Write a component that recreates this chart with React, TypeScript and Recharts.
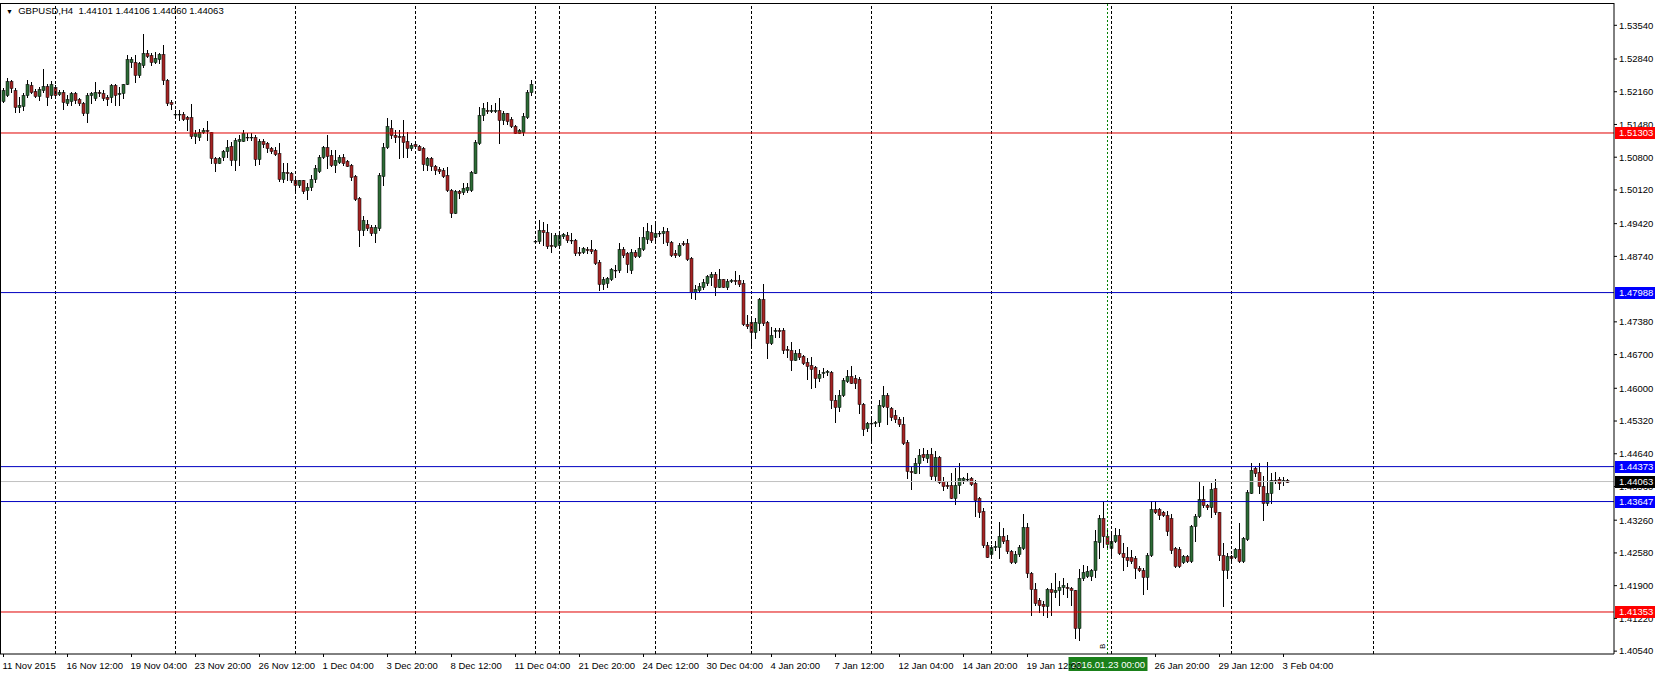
import React from 'react';
import { ComposedChart, Bar, XAxis, YAxis, ReferenceLine } from 'recharts';

const FONT = '"Liberation Sans", Arial, sans-serif';
const BULL = '#2d6b36';
const BEAR = '#a42424';

// GBPUSD H4, bar 0 = 11 Nov 2015 20:00 ... bar 321 = 3 Feb 2016 08:00
const opens = [
  1.5197, 1.5209, 1.5238, 1.5219, 1.5185, 1.5186, 1.5209, 1.5230, 1.5217, 1.5208,
  1.5219, 1.5228, 1.5209, 1.5225, 1.5212, 1.5216, 1.5193, 1.5197, 1.5214, 1.5200,
  1.5192, 1.5172, 1.5210, 1.5202, 1.5216, 1.5213, 1.5206, 1.5206, 1.5230, 1.5211,
  1.5213, 1.5233, 1.5278, 1.5278, 1.5251, 1.5271, 1.5297, 1.5292, 1.5278, 1.5285,
  1.5294, 1.5240, 1.5195, 1.5169, 1.5169, 1.5169, 1.5163, 1.5163, 1.5124, 1.5122,
  1.5132, 1.5137, 1.5132, 1.5078, 1.5069, 1.5080, 1.5092, 1.5103, 1.5074, 1.5113,
  1.5113, 1.5123, 1.5122, 1.5123, 1.5076, 1.5114, 1.5109, 1.5100, 1.5095, 1.5088,
  1.5034, 1.5050, 1.5048, 1.5033, 1.5023, 1.5032, 1.5011, 1.5018, 1.5034, 1.5052,
  1.5080, 1.5101, 1.5085, 1.5064, 1.5071, 1.5081, 1.5073, 1.5064, 1.5040, 1.4995,
  1.4929, 1.4942, 1.4936, 1.4922, 1.4932, 1.5041, 1.5101, 1.5140, 1.5126, 1.5124,
  1.5124, 1.5114, 1.5099, 1.5107, 1.5103, 1.5099, 1.5064, 1.5078, 1.5062, 1.5055,
  1.5053, 1.5043, 1.5012, 1.4965, 1.5009, 1.5007, 1.5012, 1.5011, 1.5048, 1.5110,
  1.5168, 1.5178, 1.5175, 1.5177, 1.5179, 1.5157, 1.5171, 1.5159, 1.5145, 1.5131,
  1.5133, 1.5164, 1.5216, 1.4905, 1.4905, 1.4929, 1.4924, 1.4897, 1.4896, 1.4898,
  1.4917, 1.4919, 1.4909, 1.4909, 1.4883, 1.4884, 1.4890, 1.4889, 1.4888, 1.4863,
  1.4817, 1.4819, 1.4828, 1.4846, 1.4845, 1.4890, 1.4880, 1.4845, 1.4884, 1.4875,
  1.4889, 1.4911, 1.4925, 1.4914, 1.4922, 1.4922, 1.4927, 1.4904, 1.4880, 1.4877,
  1.4902, 1.4901, 1.4870, 1.4801, 1.4804, 1.4811, 1.4818, 1.4832, 1.4837, 1.4811,
  1.4826, 1.4811, 1.4823, 1.4825, 1.4825, 1.4818, 1.4734, 1.4737, 1.4716, 1.4735,
  1.4785, 1.4737, 1.4695, 1.4718, 1.4721, 1.4721, 1.4681, 1.4680, 1.4659, 1.4673,
  1.4667, 1.4655, 1.4648, 1.4644, 1.4621, 1.4631, 1.4633, 1.4634, 1.4576, 1.4562,
  1.4586, 1.4616, 1.4626, 1.4621, 1.4619, 1.4568, 1.4517, 1.4528, 1.4527, 1.4529,
  1.4564, 1.4587, 1.4560, 1.4545, 1.4536, 1.4526, 1.4489, 1.4429, 1.4425, 1.4444,
  1.4463, 1.4455, 1.4464, 1.4417, 1.4458, 1.4407, 1.4399, 1.4399, 1.4372, 1.4399,
  1.4409, 1.4411, 1.4413, 1.4404, 1.4372, 1.4346, 1.4275, 1.4256, 1.4271, 1.4271,
  1.4293, 1.4284, 1.4261, 1.4240, 1.4256, 1.4268, 1.4311, 1.4217, 1.4183, 1.4160,
  1.4152, 1.4147, 1.4183, 1.4176, 1.4180, 1.4187, 1.4188, 1.4186, 1.4180, 1.4102,
  1.4205, 1.4210, 1.4210, 1.4223, 1.4280, 1.4330, 1.4293, 1.4268, 1.4282, 1.4295,
  1.4257, 1.4249, 1.4249, 1.4247, 1.4227, 1.4223, 1.4209, 1.4254, 1.4349, 1.4349,
  1.4344, 1.4337, 1.4330, 1.4268, 1.4266, 1.4240, 1.4251, 1.4242, 1.4313, 1.4334,
  1.4370, 1.4358, 1.4354, 1.4392, 1.4342, 1.4254, 1.4222, 1.4251, 1.4249, 1.4266,
  1.4242, 1.4287, 1.4383, 1.4434, 1.4427, 1.4397, 1.4361, 1.4383, 1.4410, 1.4411,
  1.4408, 1.44101,
];

const highs = [
  1.5223, 1.5244, 1.5240, 1.5223, 1.5206, 1.5213, 1.5240, 1.5237, 1.5221, 1.5226,
  1.5264, 1.5233, 1.5239, 1.5230, 1.5219, 1.5219, 1.5209, 1.5216, 1.5216, 1.5202,
  1.5194, 1.5213, 1.5216, 1.5237, 1.5220, 1.5219, 1.5209, 1.5233, 1.5233, 1.5226,
  1.5233, 1.5292, 1.5289, 1.5292, 1.5278, 1.5336, 1.5302, 1.5296, 1.5299, 1.5296,
  1.5313, 1.5242, 1.5199, 1.5178, 1.5178, 1.5174, 1.5165, 1.5190, 1.5136, 1.5138,
  1.5140, 1.5156, 1.5133, 1.5081, 1.5081, 1.5095, 1.5116, 1.5112, 1.5119, 1.5126,
  1.5137, 1.5130, 1.5130, 1.5126, 1.5117, 1.5117, 1.5112, 1.5102, 1.5102, 1.5109,
  1.5068, 1.5068, 1.5050, 1.5040, 1.5033, 1.5033, 1.5026, 1.5043, 1.5064, 1.5085,
  1.5103, 1.5126, 1.5095, 1.5094, 1.5085, 1.5087, 1.5074, 1.5066, 1.5043, 1.4998,
  1.4957, 1.4950, 1.4940, 1.4939, 1.5047, 1.5109, 1.5161, 1.5157, 1.5137, 1.5137,
  1.5157, 1.5133, 1.5109, 1.5110, 1.5105, 1.5102, 1.5081, 1.5081, 1.5064, 1.5060,
  1.5057, 1.5060, 1.5015, 1.5012, 1.5012, 1.5026, 1.5026, 1.5052, 1.5116, 1.5185,
  1.5192, 1.5195, 1.5188, 1.5192, 1.5202, 1.5175, 1.5172, 1.5164, 1.5147, 1.5138,
  1.5171, 1.5220, 1.5240, 1.4908, 1.4950, 1.4946, 1.4942, 1.4923, 1.4922, 1.4920,
  1.4922, 1.4925, 1.4923, 1.4911, 1.4894, 1.4894, 1.4893, 1.4908, 1.4890, 1.4867,
  1.4832, 1.4832, 1.4849, 1.4856, 1.4901, 1.4894, 1.4884, 1.4889, 1.4887, 1.4915,
  1.4936, 1.4944, 1.4939, 1.4942, 1.4927, 1.4936, 1.4932, 1.4906, 1.4887, 1.4901,
  1.4906, 1.4911, 1.4873, 1.4814, 1.4818, 1.4828, 1.4835, 1.4842, 1.4842, 1.4847,
  1.4828, 1.4826, 1.4828, 1.4844, 1.4835, 1.4825, 1.4752, 1.4746, 1.4746, 1.4787,
  1.4817, 1.4739, 1.4728, 1.4725, 1.4725, 1.4725, 1.4687, 1.4697, 1.4680, 1.4681,
  1.4669, 1.4662, 1.4666, 1.4647, 1.4638, 1.4642, 1.4638, 1.4635, 1.4587, 1.4597,
  1.4621, 1.4638, 1.4647, 1.4628, 1.4624, 1.4569, 1.4531, 1.4541, 1.4533, 1.4576,
  1.4605, 1.4591, 1.4562, 1.4554, 1.4540, 1.4541, 1.4493, 1.4437, 1.4455, 1.4474,
  1.4476, 1.4472, 1.4476, 1.4469, 1.4459, 1.4416, 1.4406, 1.4423, 1.4434, 1.4444,
  1.4416, 1.4425, 1.4416, 1.4410, 1.4375, 1.4351, 1.4281, 1.4275, 1.4282, 1.4323,
  1.4309, 1.4295, 1.4264, 1.4261, 1.4275, 1.4339, 1.4320, 1.4219, 1.4195, 1.4164,
  1.4159, 1.4185, 1.4195, 1.4217, 1.4199, 1.4205, 1.4195, 1.4188, 1.4181, 1.4224,
  1.4233, 1.4231, 1.4224, 1.4306, 1.4337, 1.4364, 1.4306, 1.4299, 1.4309, 1.4307,
  1.4278, 1.4271, 1.4264, 1.4251, 1.4230, 1.4227, 1.4257, 1.4365, 1.4365, 1.4351,
  1.4346, 1.4346, 1.4339, 1.4271, 1.4271, 1.4254, 1.4254, 1.4316, 1.4339, 1.4406,
  1.4396, 1.4360, 1.4403, 1.4411, 1.4344, 1.4278, 1.4257, 1.4254, 1.4268, 1.4320,
  1.4292, 1.4389, 1.4444, 1.4437, 1.4444, 1.4417, 1.4446, 1.4423, 1.4427, 1.4415,
  1.4415, 1.44106,
];

const lows = [
  1.5195, 1.5207, 1.5216, 1.5174, 1.5174, 1.5178, 1.5206, 1.5213, 1.5206, 1.5199,
  1.5216, 1.5188, 1.5202, 1.5206, 1.5209, 1.5181, 1.5188, 1.5188, 1.5193, 1.5188,
  1.5168, 1.5154, 1.5192, 1.5199, 1.5208, 1.5199, 1.5188, 1.5195, 1.5188, 1.5188,
  1.5202, 1.5232, 1.5268, 1.5237, 1.5247, 1.5268, 1.5289, 1.5271, 1.5275, 1.5275,
  1.5233, 1.5188, 1.5181, 1.5161, 1.5157, 1.5157, 1.5136, 1.5119, 1.5109, 1.5115,
  1.5130, 1.5116, 1.5068, 1.5052, 1.5068, 1.5074, 1.5081, 1.5064, 1.5054, 1.5064,
  1.5113, 1.5116, 1.5116, 1.5064, 1.5066, 1.5102, 1.5090, 1.5088, 1.5085, 1.5031,
  1.5029, 1.5033, 1.5029, 1.5012, 1.5019, 1.5005, 1.4993, 1.5012, 1.5029, 1.5050,
  1.5078, 1.5057, 1.5061, 1.5050, 1.5068, 1.5064, 1.5061, 1.5033, 1.4991, 1.4895,
  1.4919, 1.4929, 1.4919, 1.4903, 1.4929, 1.5022, 1.5099, 1.5119, 1.5112, 1.5078,
  1.5081, 1.5081, 1.5095, 1.5100, 1.5095, 1.5054, 1.5054, 1.5054, 1.5045, 1.5047,
  1.5038, 1.5009, 1.4955, 1.4964, 1.4995, 1.5004, 1.5007, 1.5009, 1.5047, 1.5107,
  1.5157, 1.5171, 1.5173, 1.5173, 1.5110, 1.5150, 1.5150, 1.5142, 1.5130, 1.5130,
  1.5126, 1.5161, 1.5209, 1.4901, 1.4901, 1.4898, 1.4891, 1.4884, 1.4893, 1.4894,
  1.4913, 1.4904, 1.4901, 1.4877, 1.4877, 1.4880, 1.4881, 1.4881, 1.4858, 1.4804,
  1.4807, 1.4811, 1.4825, 1.4832, 1.4842, 1.4873, 1.4842, 1.4839, 1.4873, 1.4873,
  1.4887, 1.4901, 1.4904, 1.4908, 1.4916, 1.4901, 1.4897, 1.4874, 1.4873, 1.4874,
  1.4897, 1.4867, 1.4787, 1.4785, 1.4800, 1.4807, 1.4814, 1.4814, 1.4794, 1.4810,
  1.4810, 1.4806, 1.4820, 1.4817, 1.4813, 1.4732, 1.4725, 1.4688, 1.4704, 1.4721,
  1.4732, 1.4663, 1.4692, 1.4706, 1.4706, 1.4673, 1.4666, 1.4638, 1.4658, 1.4661,
  1.4651, 1.4619, 1.4600, 1.4602, 1.4616, 1.4624, 1.4628, 1.4559, 1.4531, 1.4552,
  1.4583, 1.4614, 1.4611, 1.4600, 1.4548, 1.4503, 1.4512, 1.4489, 1.4521, 1.4521,
  1.4562, 1.4526, 1.4534, 1.4531, 1.4521, 1.4485, 1.4413, 1.4391, 1.4424, 1.4424,
  1.4450, 1.4446, 1.4411, 1.4410, 1.4404, 1.4389, 1.4392, 1.4372, 1.4360, 1.4382,
  1.4403, 1.4408, 1.4399, 1.4335, 1.4333, 1.4271, 1.4249, 1.4247, 1.4264, 1.4247,
  1.4278, 1.4257, 1.4237, 1.4238, 1.4252, 1.4266, 1.4209, 1.4129, 1.4150, 1.4136,
  1.4130, 1.4125, 1.4130, 1.4167, 1.4150, 1.4173, 1.4167, 1.4150, 1.4081, 1.4077,
  1.4202, 1.4209, 1.4202, 1.4209, 1.4247, 1.4271, 1.4266, 1.4251, 1.4280, 1.4256,
  1.4223, 1.4230, 1.4237, 1.4206, 1.4220, 1.4173, 1.4183, 1.4251, 1.4340, 1.4328,
  1.4335, 1.4296, 1.4257, 1.4229, 1.4229, 1.4238, 1.4240, 1.4240, 1.4282, 1.4333,
  1.4354, 1.4350, 1.4333, 1.4339, 1.4244, 1.4147, 1.4206, 1.4240, 1.4247, 1.4240,
  1.4240, 1.4285, 1.4382, 1.4417, 1.4382, 1.4327, 1.4358, 1.4361, 1.4403, 1.4390,
  1.4399, 1.44060,
];

const closes = [
  1.5219, 1.5238, 1.5223, 1.5185, 1.5188, 1.5210, 1.5233, 1.5216, 1.5208, 1.5221,
  1.5228, 1.5206, 1.5233, 1.5209, 1.5216, 1.5195, 1.5200, 1.5213, 1.5199, 1.5192,
  1.5172, 1.5210, 1.5213, 1.5216, 1.5213, 1.5202, 1.5201, 1.5230, 1.5209, 1.5214,
  1.5232, 1.5283, 1.5283, 1.5251, 1.5275, 1.5297, 1.5290, 1.5278, 1.5287, 1.5294,
  1.5240, 1.5193, 1.5191, 1.5169, 1.5170, 1.5159, 1.5159, 1.5124, 1.5130, 1.5133,
  1.5137, 1.5134, 1.5078, 1.5069, 1.5078, 1.5092, 1.5102, 1.5074, 1.5116, 1.5117,
  1.5130, 1.5121, 1.5122, 1.5076, 1.5114, 1.5107, 1.5099, 1.5093, 1.5087, 1.5034,
  1.5050, 1.5048, 1.5033, 1.5023, 1.5032, 1.5009, 1.5019, 1.5034, 1.5057, 1.5081,
  1.5102, 1.5083, 1.5064, 1.5074, 1.5081, 1.5069, 1.5062, 1.5038, 1.4993, 1.4929,
  1.4950, 1.4933, 1.4922, 1.4934, 1.5043, 1.5102, 1.5145, 1.5126, 1.5123, 1.5123,
  1.5112, 1.5099, 1.5105, 1.5103, 1.5096, 1.5066, 1.5078, 1.5061, 1.5053, 1.5052,
  1.5041, 1.5012, 1.4965, 1.5009, 1.5005, 1.5016, 1.5018, 1.5050, 1.5112, 1.5168,
  1.5182, 1.5175, 1.5178, 1.5179, 1.5157, 1.5171, 1.5156, 1.5145, 1.5131, 1.5136,
  1.5166, 1.5216, 1.5233, 1.4906, 1.4929, 1.4924, 1.4896, 1.4896, 1.4918, 1.4918,
  1.4920, 1.4908, 1.4907, 1.4881, 1.4880, 1.4891, 1.4887, 1.4886, 1.4861, 1.4816,
  1.4826, 1.4830, 1.4847, 1.4845, 1.4889, 1.4877, 1.4858, 1.4884, 1.4875, 1.4891,
  1.4915, 1.4926, 1.4908, 1.4922, 1.4923, 1.4927, 1.4904, 1.4877, 1.4877, 1.4898,
  1.4899, 1.4868, 1.4801, 1.4807, 1.4812, 1.4821, 1.4833, 1.4837, 1.4811, 1.4826,
  1.4811, 1.4823, 1.4825, 1.4822, 1.4817, 1.4734, 1.4730, 1.4716, 1.4737, 1.4785,
  1.4735, 1.4695, 1.4711, 1.4722, 1.4718, 1.4680, 1.4679, 1.4659, 1.4674, 1.4665,
  1.4653, 1.4646, 1.4640, 1.4621, 1.4630, 1.4633, 1.4635, 1.4576, 1.4562, 1.4586,
  1.4618, 1.4626, 1.4612, 1.4612, 1.4568, 1.4515, 1.4527, 1.4527, 1.4531, 1.4566,
  1.4587, 1.4562, 1.4540, 1.4536, 1.4526, 1.4487, 1.4429, 1.4426, 1.4444, 1.4462,
  1.4457, 1.4464, 1.4417, 1.4458, 1.4406, 1.4397, 1.4396, 1.4372, 1.4399, 1.4413,
  1.4413, 1.4412, 1.4402, 1.4368, 1.4344, 1.4275, 1.4250, 1.4271, 1.4273, 1.4293,
  1.4282, 1.4261, 1.4240, 1.4256, 1.4270, 1.4311, 1.4217, 1.4183, 1.4154, 1.4150,
  1.4147, 1.4183, 1.4176, 1.4181, 1.4188, 1.4192, 1.4186, 1.4180, 1.4102, 1.4205,
  1.4219, 1.4221, 1.4223, 1.4282, 1.4330, 1.4293, 1.4277, 1.4282, 1.4295, 1.4257,
  1.4249, 1.4244, 1.4242, 1.4227, 1.4223, 1.4209, 1.4254, 1.4349, 1.4344, 1.4337,
  1.4337, 1.4303, 1.4264, 1.4231, 1.4230, 1.4251, 1.4242, 1.4314, 1.4335, 1.4370,
  1.4358, 1.4354, 1.4390, 1.4342, 1.4254, 1.4222, 1.4251, 1.4247, 1.4266, 1.4242,
  1.4289, 1.4385, 1.4430, 1.4423, 1.4396, 1.4361, 1.4383, 1.4410, 1.4408, 1.4404,
  1.4410, 1.44063,
];

const timeTicks = [0, 16, 32, 48, 64, 80, 96, 112, 128, 144, 160, 176, 192, 208, 224, 240, 256, 288, 304, 320];
const timeLabels = [
  '11 Nov 2015', '16 Nov 12:00', '19 Nov 04:00', '23 Nov 20:00', '26 Nov 12:00', '1 Dec 04:00',
  '3 Dec 20:00', '8 Dec 12:00', '11 Dec 04:00', '21 Dec 20:00', '24 Dec 12:00', '30 Dec 04:00',
  '4 Jan 20:00', '7 Jan 12:00', '12 Jan 04:00', '14 Jan 20:00', '19 Jan 12:00', '26 Jan 20:00',
  '29 Jan 12:00', '3 Feb 04:00',
];

const priceTicks = [
  1.5354, 1.5284, 1.5216, 1.5148, 1.508, 1.5012, 1.4942, 1.4874, 1.4738,
  1.467, 1.46, 1.4532, 1.4464, 1.4396, 1.4326, 1.4258, 1.419, 1.4122, 1.4054,
];

// week separators (bar index of each Monday open) and the marker line
const weekStarts = [13, 43, 73, 103, 133, 139, 163, 187, 217, 247, 277, 307, 342.5];
const markerBar = 276;
const markerTime = '2016.01.23 00:00';

const resistanceLevels = [1.51303, 1.41353];
const supportLevels = [1.47988, 1.44373, 1.43647];
const bidPrice = 1.44063;
const lastBar = { open: 1.44101, high: 1.44106, low: 1.4406, close: 1.44063 };

// tags come after the plain ticks so they are painted on top of them
const tagPrices = [...resistanceLevels, ...supportLevels, bidPrice];
const axisTicks = [...priceTicks, ...tagPrices];

const bars = opens.map((open, i) => ({ i, open, high: highs[i], low: lows[i], close: closes[i] }));

function Candle(props: any) {
  const { x, y, width, height, payload } = props;
  if (!payload || x == null) return null;
  const { open, close, high, low } = payload;
  const top = Math.min(y, y + height);
  const h = Math.abs(height);
  const cx = Math.floor(x + width / 2) + 0.5;
  const at = (p: number) => (high > low ? top + ((high - p) / (high - low)) * h : top);
  const bTop = Math.round(at(Math.max(open, close)));
  const bBot = Math.round(at(Math.min(open, close)));
  const up = close >= open;
  return (
    <g>
      <line x1={cx} x2={cx} y1={Math.round(top)} y2={Math.round(top + h) + 1} stroke="#000" strokeWidth={1} />
      <rect x={cx - 1.5} y={bTop + 0.5} width={3} height={Math.max(0.5, bBot - bTop)} fill={up ? BULL : BEAR} stroke="#000" strokeWidth={0.5} />
    </g>
  );
}

function TimeTick(props: any) {
  const { x, y, payload } = props;
  const label = timeLabels[timeTicks.indexOf(payload.value)];
  return (
    <g>
      <line x1={x} x2={x} y1={y} y2={y + 3} stroke="#000" />
      <text x={x - 1} y={y + 14.5} fontSize={9.5} fontFamily={FONT} fill="#000">{label}</text>
    </g>
  );
}

function PriceTick(props: any) {
  const { x, y, payload } = props;
  const v = payload.value;
  if (tagPrices.includes(v)) {
    const bg = resistanceLevels.includes(v) ? '#ff0000' : supportLevels.includes(v) ? '#0000ff' : '#000';
    return (
      <g>
        <rect x={x + 1} y={Math.round(y) - 6} width={40} height={12} fill={bg} />
        <text x={x + 5} y={y} dy="0.35em" fontSize={9.5} fontFamily={FONT} fill="#fff">{v.toFixed(5)}</text>
      </g>
    );
  }
  return (
    <g>
      <line x1={x} x2={x + 3} y1={y} y2={y} stroke="#000" />
      <text x={x + 5} y={y} dy="0.35em" fontSize={9.5} fontFamily={FONT} fill="#000">{v.toFixed(5)}</text>
    </g>
  );
}

function MarkerTag(props: any) {
  const { viewBox } = props;
  if (!viewBox) return null;
  const x = viewBox.x;
  const bottom = viewBox.y + viewBox.height;
  return (
    <g>
      <text transform={`translate(${x - 3}, ${bottom - 5}) rotate(-90)`} fontSize={8} fontFamily={FONT} fill="#000">B</text>
      <rect x={x - 39} y={bottom + 3} width={79} height={14} fill="#1a801a" />
      <text x={x + 0.5} y={bottom + 13.5} textAnchor="middle" fontSize={9.5} fontFamily={FONT} fill="#fff">{markerTime}</text>
    </g>
  );
}

export default function App() {
  return (
    <div style={{ position: 'fixed', left: 0, top: 0, width: 1658, height: 676, background: '#fff', overflow: 'hidden' }}>
      <ComposedChart width={1658} height={676} data={bars} margin={{ top: 3, right: 0, bottom: 0, left: 0 }}>
        <XAxis
          type="number"
          dataKey="i"
          domain={[-0.875, 402.625]}
          allowDataOverflow
          ticks={timeTicks}
          interval={0}
          tick={<TimeTick />}
          tickLine={false}
          tickSize={0}
          tickMargin={0}
          height={22}
          axisLine={{ stroke: '#000' }}
        />
        <YAxis
          orientation="right"
          type="number"
          domain={[1.404804, 1.540034]}
          allowDataOverflow
          ticks={axisTicks}
          interval={0}
          tick={<PriceTick />}
          tickLine={false}
          tickSize={0}
          tickMargin={0}
          width={44}
          axisLine={{ stroke: '#000' }}
        />
        {weekStarts.map((s) => (
          <ReferenceLine key={'w' + s} x={s} stroke="#000" strokeDasharray="3 2" />
        ))}
        <ReferenceLine x={markerBar} stroke="#008000" strokeDasharray="2 2" label={<MarkerTag />} />
        <Bar
          dataKey={(d: any) => [d.low, d.high]}
          barSize={3}
          shape={(p: any) => <Candle {...p} />}
          isAnimationActive={false}
        />
        {resistanceLevels.map((v) => (
          <ReferenceLine key={'r' + v} y={v} stroke="#e00000" />
        ))}
        {supportLevels.map((v) => (
          <ReferenceLine key={'s' + v} y={v} stroke="#0000c0" />
        ))}
        <ReferenceLine y={bidPrice} stroke="#c0c0c0" />
      </ComposedChart>
      <div style={{ position: 'absolute', left: 0, top: 3, width: 1614, height: 651, borderTop: '1px solid #000', borderLeft: '1px solid #000', boxSizing: 'border-box', pointerEvents: 'none' }} />
      <div style={{ position: 'absolute', left: 6, top: 5, fontFamily: FONT, fontSize: 9.5, color: '#000', whiteSpace: 'pre', lineHeight: '12px' }}>
        <span style={{ fontSize: 7 }}>▼</span>{`  GBPUSD,H4  ${lastBar.open.toFixed(5)} ${lastBar.high.toFixed(5)} ${lastBar.low.toFixed(5)} ${lastBar.close.toFixed(5)}`}
      </div>
    </div>
  );
}
